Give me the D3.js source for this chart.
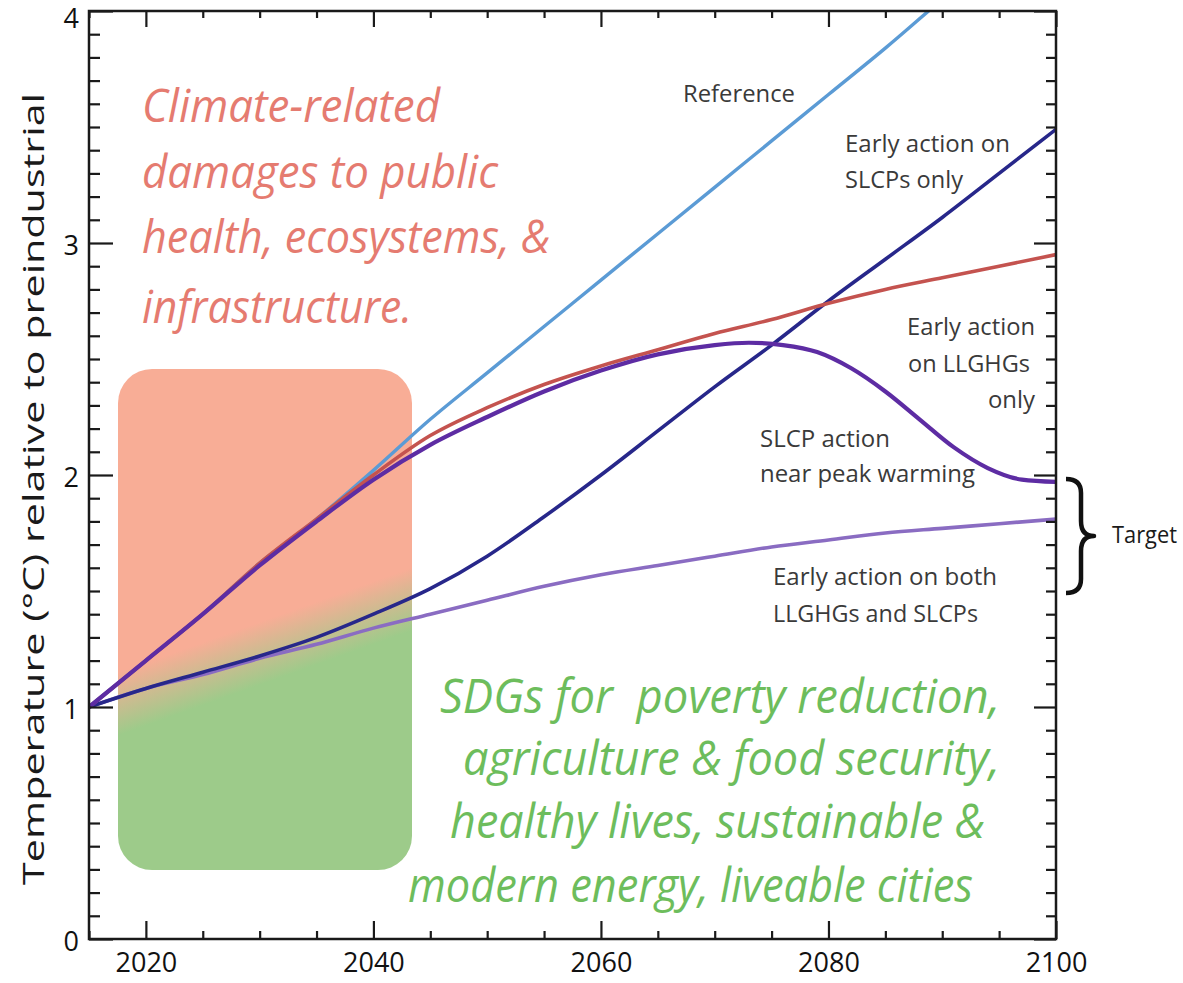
<!DOCTYPE html>
<html><head><meta charset="utf-8">
<script src="https://cdn.jsdelivr.net/npm/d3@7"></script>
<style>html,body{margin:0;padding:0;background:#fff;} svg{display:block;}</style>
</head><body>
<svg id="chart" width="1183" height="983"></svg>
<script>
// ---------------- DATA ----------------
const years           = [2015,2020,2025,2030,2035,2040,2045,2050,2055,2060,2065,2070,2075,2080,2085,2090,2095,2100];
const referenceTemp   = [1.00,1.20,1.40,1.62,1.81,2.02,2.24,2.44,2.64,2.84,3.04,3.24,3.44,3.64,3.84,4.05,4.25,4.45];
const llghgOnlyTemp   = [1.00,1.20,1.40,1.62,1.81,2.00,2.17,2.29,2.39,2.47,2.54,2.61,2.67,2.74,2.80,2.85,2.90,2.95];
const slcpOnlyTemp    = [1.00,1.08,1.15,1.22,1.30,1.40,1.51,1.65,1.82,2.00,2.19,2.38,2.56,2.75,2.93,3.11,3.30,3.49];
const bothTemp        = [1.00,1.08,1.14,1.21,1.27,1.34,1.40,1.46,1.52,1.57,1.61,1.65,1.69,1.72,1.75,1.77,1.79,1.81];
const peakYears       = [2015,2020,2025,2030,2035,2040,2045,2050,2055,2060,2065,2070,2073,2076,2079,2082,2085,2088,2091,2094,2097,2100];
const peakActionTemp  = [1.00,1.20,1.40,1.61,1.80,1.98,2.13,2.25,2.36,2.45,2.52,2.56,2.57,2.56,2.53,2.46,2.36,2.24,2.12,2.03,1.98,1.97];

const xMajorTicks = [2020,2040,2060,2080,2100];
const yMajorTicks = [0,1,2,3,4];

const yAxisTitle   = "Temperature (\u00B0C) relative to preindustrial";
const damageText   = ["Climate-related","damages to public","health, ecosystems, &","infrastructure."];
const sdgText      = ["SDGs for  poverty reduction,","agriculture & food security,","healthy lives, sustainable &","modern energy, liveable cities"];
const labelReference = ["Reference"];
const labelSlcpOnly  = ["Early action on","SLCPs only"];
const labelLlghgOnly = ["Early action","on LLGHGs","only"];
const labelPeak      = ["SLCP action","near peak warming"];
const labelBoth      = ["Early action on both","LLGHGs and SLCPs"];
const labelTarget    = "Target";

// ---------------- LAYOUT ----------------
const svg = d3.select("#chart");
const L = 89, R = 1056, T = 11, B = 939;
const x = d3.scaleLinear().domain([2015,2100]).range([L,R]);
const y = d3.scaleLinear().domain([0,4]).range([B,T]);

const FONT = "'Open Sans', 'DejaVu Sans', sans-serif";
const defs = svg.append("defs");
defs.append("clipPath").attr("id","plotClip").append("rect")
  .attr("x",L).attr("y",T).attr("width",R-L).attr("height",B-T);

const grad = defs.append("linearGradient").attr("id","boxGrad")
  .attr("gradientUnits","userSpaceOnUse")
  .attr("x1",254).attr("y1",624).attr("x2",274).attr("y2",680);
grad.append("stop").attr("offset","0").attr("stop-color","#f8ad96");
grad.append("stop").attr("offset","1").attr("stop-color","#9dcb8a");

// background box
svg.append("rect").attr("x",118).attr("y",369).attr("width",294).attr("height",501)
  .attr("rx",34).attr("ry",34).attr("fill","url(#boxGrad)");

function fit(sel, w){ sel.attr("textLength", w).attr("lengthAdjust","spacingAndGlyphs"); return sel; }

// salmon italic text
const dmgPos = [[142,122,298],[142,188,356],[142,253,408],[142,323,270]];
damageText.forEach((t,i)=>{
  fit(svg.append("text").attr("x",dmgPos[i][0]).attr("y",dmgPos[i][1])
    .attr("font-family",FONT).attr("font-style","italic").attr("font-size",46)
    .attr("fill","#e57b70").text(t), dmgPos[i][2]);
});
// green italic text
const sdgPos = [[440,713,560],[463,775,537],[450,838,535],[408,902,565]];
sdgText.forEach((t,i)=>{
  fit(svg.append("text").attr("x",sdgPos[i][0]).attr("y",sdgPos[i][1])
    .attr("font-family",FONT).attr("font-style","italic").attr("font-size",48)
    .attr("fill","#6dbd5c").attr("xml:space","preserve").style("white-space","pre").text(t), sdgPos[i][2]);
});

// ---------------- LINES ----------------
const line = d3.line().x(d=>x(d.year)).y(d=>y(d.value)).curve(d3.curveMonotoneX);
const zip = (ys, vs) => ys.map((yr,i)=>({year:yr, value:vs[i]}));
const series = [
  {vals: zip(years,bothTemp),         color:"#8a6cc2", w:3.6},
  {vals: zip(years,slcpOnlyTemp),     color:"#27278a", w:3.6},
  {vals: zip(years,referenceTemp),    color:"#5b9bd5", w:3.4},
  {vals: zip(years,llghgOnlyTemp),    color:"#c4534f", w:3.6},
  {vals: zip(peakYears,peakActionTemp),color:"#5d2ca3", w:4.2}
];
const lg = svg.append("g").attr("clip-path","url(#plotClip)");
lg.selectAll("path").data(series).join("path")
  .attr("d", d=>line(d.vals)).attr("fill","none")
  .attr("stroke", d=>d.color).attr("stroke-width", d=>d.w)
  .attr("stroke-linejoin","round").attr("stroke-linecap","round");

// ---------------- AXES ----------------
const xMinor = d3.range(2015,2101,5).filter(v=>!xMajorTicks.includes(v));
const yMinor = d3.range(0,40.5,1).map(v=>v/10).filter(v=>Math.abs(v-Math.round(v))>1e-6);

function styleAxis(g){
  g.select(".domain").remove();
  g.selectAll(".tick line").attr("stroke","#1a1a1a").attr("stroke-width",2.2);
  g.selectAll(".tick text").attr("font-family",FONT).attr("font-size",27).attr("fill","#111");
}
svg.append("g").attr("transform",`translate(0,${B})`)
  .call(d3.axisBottom(x).tickValues(xMinor).tickSize(-8).tickFormat("")).call(styleAxis);
svg.append("g").attr("transform",`translate(0,${B})`)
  .call(d3.axisBottom(x).tickValues(xMajorTicks).tickSize(-18).tickPadding(14).tickFormat(d3.format("d"))).call(styleAxis);
svg.append("g").attr("transform",`translate(0,${T})`)
  .call(d3.axisTop(x).tickValues(xMinor).tickSize(-7).tickFormat("")).call(styleAxis);
svg.append("g").attr("transform",`translate(0,${T})`)
  .call(d3.axisTop(x).tickValues(xMajorTicks).tickSize(-16).tickFormat("")).call(styleAxis);
svg.append("g").attr("transform",`translate(${L},0)`)
  .call(d3.axisLeft(y).tickValues(yMinor).tickSize(-11).tickFormat("")).call(styleAxis);
const yMaj = svg.append("g").attr("transform",`translate(${L},0)`)
  .call(d3.axisLeft(y).tickValues(yMajorTicks).tickSize(-24).tickPadding(10).tickFormat(d3.format("d"))).call(styleAxis);
yMaj.selectAll(".tick text").attr("dy", d => d === 4 ? "0.62em" : "0.42em");
svg.append("g").attr("transform",`translate(${R},0)`)
  .call(d3.axisRight(y).tickValues(yMinor).tickSize(-10).tickFormat("")).call(styleAxis);
svg.append("g").attr("transform",`translate(${R},0)`)
  .call(d3.axisRight(y).tickValues(yMajorTicks).tickSize(-22).tickFormat("")).call(styleAxis);

// frame
svg.append("rect").attr("x",L).attr("y",T).attr("width",R-L).attr("height",B-T)
  .attr("fill","none").attr("stroke","#1a1a1a").attr("stroke-width",2.5);

// y-axis title
fit(svg.append("text").attr("transform","translate(44,489) rotate(-90)")
  .attr("text-anchor","middle").attr("font-family",FONT).attr("font-size",30)
  .attr("fill","#1a1a1a").text(yAxisTitle), 792);

// ---------------- SERIES LABELS ----------------
function label(lines, pos){
  lines.forEach((t,i)=>{
    fit(svg.append("text").attr("x",pos[i][0]).attr("y",pos[i][1])
      .attr("font-family",FONT).attr("font-size",24).attr("fill","#3a3a3a").text(t), pos[i][2]);
  });
}
label(labelReference, [[683,102,112]]);
label(labelSlcpOnly,  [[845,152,165],[845,188,118]]);
label(labelLlghgOnly, [[907,335,128],[908,372,122],[988,408,47]]);
label(labelPeak,      [[760,447,130],[760,482,215]]);
label(labelBoth,      [[773,585,224],[773,622,205]]);
fit(svg.append("text").attr("x",1112).attr("y",543).attr("font-family",FONT)
  .attr("font-size",24).attr("fill","#1a1a1a").text(labelTarget), 65);

// brace
svg.append("path")
  .attr("d","M1066,479 Q1081,479 1081,493 L1081,521 Q1081,536 1094,536 Q1081,536 1081,551 L1081,579 Q1081,593 1066,593")
  .attr("fill","none").attr("stroke","#111").attr("stroke-width",4.5).attr("stroke-linejoin","round");
</script>
</body></html>
